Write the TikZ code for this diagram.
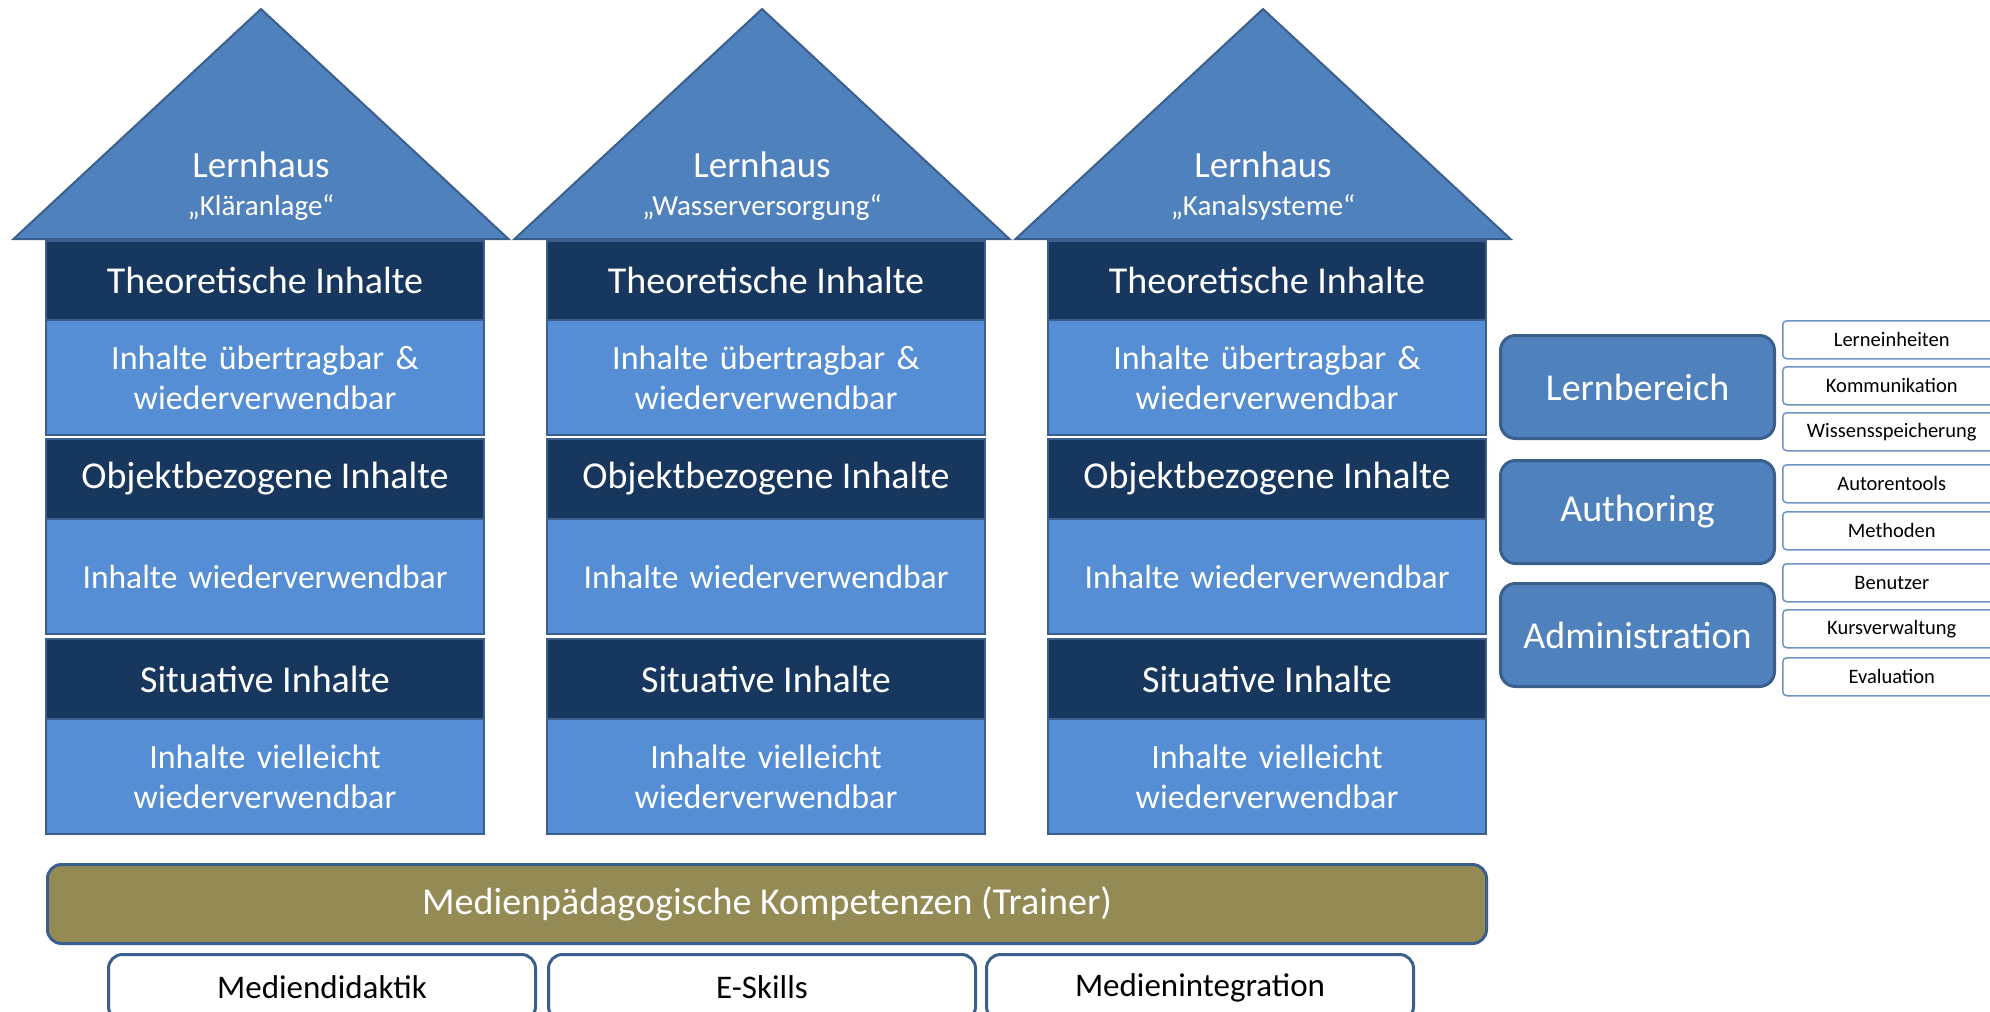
\documentclass[tikz,border=0pt]{standalone}
\usepackage{fontspec}
\setmainfont{Carlito}
\definecolor{roofc}{HTML}{4F81BD}
\definecolor{bordc}{HTML}{3A5F8C}
\definecolor{darkb}{HTML}{17375E}
\definecolor{lightb}{HTML}{558ED5}
\definecolor{goldc}{HTML}{948A54}
\definecolor{smallb}{HTML}{6F93C6}
\begin{document}
\begin{tikzpicture}[x=1pt,y=-1pt,
  blk/.style={draw=bordc, line width=2pt, inner sep=0pt, anchor=north west, minimum width=438, text=white, align=center},
  hdr/.style={blk, fill=darkb, font=\fontsize{38}{44}\selectfont},
  body/.style={blk, fill=lightb, font=\fontsize{34}{40}\selectfont, text width=430},
  roofline/.style={draw=bordc, line width=2pt, fill=roofc, line join=miter},
  area/.style={draw=bordc, line width=3pt, fill=roofc, rounded corners=15, text=white, minimum width=274, minimum height=103, inner sep=0pt, font=\fontsize{38}{44}\selectfont, anchor=north west},
  item/.style={draw=smallb, line width=1.5pt, fill=white, rounded corners=4, text=black, minimum width=218, minimum height=38, inner sep=0pt, font=\fontsize{20.5}{24}\selectfont, anchor=north west},
  skill/.style={draw=bordc, line width=3pt, fill=white, rounded corners=14, text=black, minimum width=427, minimum height=66, inner sep=0pt, anchor=north west, font=\fontsize{33}{38}\selectfont},
]
\useasboundingbox (0,0) rectangle (1990,1012);
\clip (0,0) rectangle (1990,1012);

\foreach \i/\name in {1/„Kläranlage“, 2/„Wasserversorgung“, 3/„Kanalsysteme“}{
  \pgfmathsetmacro{\cx}{264+501*(\i-1)}
  \pgfmathsetmacro{\rx}{\cx-3}
  \filldraw[roofline] (\rx-247.5,239) -- (\rx,9) -- (\rx+247.5,239) -- cycle;
  \node[text=white, font=\fontsize{37}{44}\selectfont, anchor=base] (lh\i) at (\rx,177) {Lernhaus};
  \node[text=white, font=\fontsize{29}{34}\selectfont, anchor=base] (ln\i) at (\rx,215) {\name};
  \node[hdr, minimum height=79] (th\i) at (\cx-219,240) {Theoretische Inhalte};
  \node[body, minimum height=115] (tb\i) at (\cx-219,319) {Inhalte übertragbar \&\\wiederverwendbar};
  \node[hdr, minimum height=80] (oh\i) at (\cx-219,438) {Objektbezogene Inhalte};
  \node[body, minimum height=115, font=\fontsize{33.5}{40}\selectfont] (ob\i) at (\cx-219,518) {Inhalte wiederverwendbar};
  \node[hdr, minimum height=80] (sh\i) at (\cx-219,638) {Situative Inhalte};
  \node[body, minimum height=115] (sb\i) at (\cx-219,718) {Inhalte vielleicht\\wiederverwendbar};
}

\node[draw=bordc, line width=3pt, fill=goldc, rounded corners=14, text=white, minimum width=1439, minimum height=79, inner sep=0pt, anchor=north west, font=\fontsize{38}{44}\selectfont] (mpk) at (46,863) {Medienpädagogische Kompetenzen (Trainer)};

\node[skill] (md) at (107,953) {Mediendidaktik};
\node[skill] (es) at (547,953) {E-Skills};
\node[skill] (mi) at (985,953) {Medienintegration};

\node[area] (lb) at (1499,334) {Lernbereich};
\node[area] (au) at (1499,459) {Authoring};
\node[area] (ad) at (1499,582) {Administration};

\node[item] (i1) at (1782,320) {Lerneinheiten};
\node[item] (i2) at (1782,366) {Kommunikation};
\node[item] (i3) at (1782,412) {Wissensspeicherung};
\node[item] (i4) at (1782,464) {Autorentools};
\node[item] (i5) at (1782,511) {Methoden};
\node[item] (i6) at (1782,563) {Benutzer};
\node[item] (i7) at (1782,609) {Kursverwaltung};
\node[item] (i8) at (1782,657) {Evaluation};
\end{tikzpicture}
\end{document}
